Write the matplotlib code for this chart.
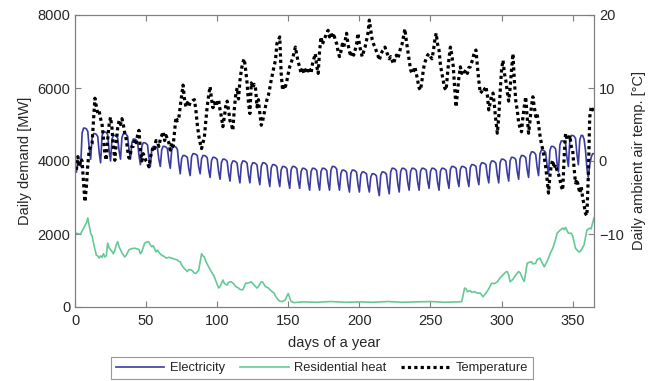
import matplotlib
matplotlib.use("Agg")
import matplotlib.pyplot as plt
import numpy as np

plt.rcParams['font.family'] = ['Liberation Sans', 'DejaVu Sans']

# ---------------- data ----------------
days = list(range(1, 366))

electricity = [
    3700, 4000, 3950, 3850,
    4770, 4900, 4900, 4880, 4810, 4350, 4050,
    4630, 4750, 4750, 4730, 4670, 4230, 3950,
    4680, 4800, 4800, 4780, 4720, 4280, 4000,
    4600, 4700, 4700, 4680, 4630, 4280, 4050,
    4640, 4750, 4750, 4730, 4680, 4300, 4050,
    4500, 4600, 4600, 4580, 4530, 4150, 3900,
    4400, 4500, 4500, 4480, 4440, 4080, 3850,
    4320, 4400, 4400, 4380, 4350, 4040, 3850,
    4310, 4400, 4400, 4380, 4340, 4010, 3800,
    4290, 4400, 4400, 4380, 4320, 3930, 3650,
    4070, 4150, 4150, 4130, 4100, 3790, 3600,
    4120, 4200, 4200, 4180, 4150, 3840, 3650,
    4060, 4150, 4150, 4130, 4090, 3760, 3550,
    4010, 4100, 4100, 4080, 4040, 3710, 3500,
    3960, 4050, 4050, 4030, 3990, 3660, 3450,
    3910, 4000, 4000, 3980, 3940, 3610, 3400,
    3910, 4000, 4000, 3980, 3940, 3610, 3400,
    3860, 3950, 3950, 3930, 3890, 3560, 3350,
    3850, 3950, 3950, 3930, 3880, 3530, 3300,
    3810, 3900, 3900, 3880, 3840, 3510, 3300,
    3760, 3850, 3850, 3830, 3790, 3460, 3250,
    3760, 3850, 3850, 3830, 3790, 3460, 3250,
    3710, 3800, 3800, 3780, 3740, 3410, 3200,
    3710, 3800, 3800, 3780, 3740, 3410, 3200,
    3710, 3800, 3800, 3780, 3740, 3410, 3200,
    3750, 3850, 3850, 3830, 3780, 3430, 3200,
    3660, 3750, 3750, 3730, 3690, 3360, 3150,
    3660, 3750, 3750, 3730, 3690, 3360, 3150,
    3620, 3700, 3700, 3680, 3650, 3340, 3150,
    3560, 3650, 3650, 3630, 3590, 3260, 3050,
    3610, 3700, 3700, 3680, 3640, 3310, 3100,
    3700, 3800, 3800, 3780, 3740, 3380, 3150,
    3710, 3800, 3800, 3780, 3740, 3410, 3200,
    3710, 3800, 3800, 3780, 3740, 3410, 3200,
    3720, 3800, 3800, 3780, 3750, 3450, 3250,
    3710, 3800, 3800, 3780, 3740, 3410, 3200,
    3720, 3800, 3800, 3780, 3750, 3450, 3250,
    3770, 3850, 3850, 3830, 3800, 3490, 3300,
    3770, 3850, 3850, 3830, 3800, 3490, 3300,
    3820, 3900, 3900, 3880, 3850, 3540, 3350,
    3870, 3950, 3950, 3930, 3900, 3590, 3400,
    3910, 4000, 4000, 3980, 3940, 3610, 3400,
    3960, 4050, 4050, 4030, 3990, 3660, 3450,
    4010, 4100, 4100, 4080, 4040, 3710, 3500,
    4060, 4150, 4150, 4130, 4090, 3760, 3550,
    4150, 4250, 4250, 4230, 4180, 3830, 3600,
    4200, 4300, 4300, 4280, 4230, 3880, 3650,
    4290, 4400, 4400, 4380, 4330, 3940, 3700,
    4440, 4550, 4550, 4530, 4480, 4090, 3850,
    4580, 4700, 4700, 4680, 4620, 4180, 3900,
    4580, 4700, 4700, 4600, 4300, 3800, 3550,
    3900, 4100, 4200, 4200,
]

temperature = [
    -1.2, 0.6, -0.8, 0.3, 0.0, -3.0, -5.6, -3.5, -0.5, 1.5,
    2.0, 2.4, 5.5, 8.6, 7.5, 6.5, 6.8, 5.8, 5.1, 3.0,
    1.0, 0.1, 3.0, 5.0, 6.0, 4.5, 2.0, 0.1, 2.5, 4.5,
    5.5, 5.0, 5.8, 5.0, 3.8, 3.0, 1.5, 0.4, 1.0, 2.0,
    2.0, 3.0, 2.5, 3.5, 4.2, 1.5, 0.0, 1.0, 0.5, 0.0,
    -0.3, -0.8, 0.5, 1.2, 2.0, 1.7, 2.8, 2.5, 2.0, 3.0,
    3.5, 4.0, 2.8, 3.5, 3.0, 2.5, 1.5, 2.5, 2.0, 4.0,
    6.0, 5.5, 5.8, 7.5, 9.0, 10.4, 8.5, 7.4, 8.0, 7.5,
    8.0, 8.1, 8.3, 8.4, 7.0, 5.0, 3.5, 2.5, 1.7, 2.5,
    3.3, 5.5, 7.5, 9.0, 10.2, 8.5, 7.3, 8.0, 7.5, 8.0,
    8.4, 7.0, 6.0, 4.7, 6.0, 7.5, 8.2, 7.0, 5.5, 5.0,
    4.2, 7.0, 9.0, 10.0, 8.5, 11.0, 12.5, 13.5, 14.0, 12.5,
    10.7, 8.0, 6.5, 10.7, 10.0, 10.5, 9.9, 7.4, 8.4, 6.5,
    4.9, 5.5, 6.5, 7.5, 8.4, 9.0, 10.0, 11.1, 12.0, 13.0,
    13.8, 16.1, 16.5, 17.0, 12.0, 9.7, 10.5, 10.2, 11.0, 12.0,
    12.9, 13.5, 14.0, 14.8, 15.6, 14.5, 13.5, 12.9, 12.0, 12.8,
    12.0, 12.5, 12.0, 12.8, 12.5, 12.0, 13.3, 14.0, 14.7, 13.0,
    12.0, 15.0, 17.0, 16.0, 16.5, 17.0, 17.5, 17.9, 17.0, 17.5,
    16.8, 17.5, 16.5, 16.1, 15.0, 14.3, 15.0, 16.0, 15.6, 16.5,
    17.5, 16.0, 15.0, 14.3, 15.0, 14.5, 15.2, 16.0, 17.5, 16.0,
    15.0, 14.3, 15.0, 15.6, 16.5, 17.5, 19.3, 18.0, 16.6, 16.0,
    15.6, 15.0, 14.5, 13.8, 14.5, 15.0, 15.2, 15.6, 15.0, 14.5,
    14.0, 14.3, 13.8, 13.3, 14.0, 14.5, 14.0, 14.7, 15.5, 16.0,
    17.0, 18.1, 16.5, 15.2, 14.0, 12.5, 12.0, 12.3, 12.9, 12.0,
    11.0, 10.0, 9.7, 11.0, 12.5, 13.5, 14.0, 14.5, 14.7, 14.3,
    14.0, 15.0, 16.5, 17.5, 16.0, 15.2, 13.2, 12.0, 11.0, 10.0,
    9.7, 12.0, 14.0, 15.6, 14.5, 13.0, 10.0, 7.4, 9.5, 11.5,
    12.9, 12.0, 12.5, 12.2, 12.5, 12.0, 12.8, 12.9, 13.5, 14.2,
    15.0, 15.2, 13.0, 11.0, 9.3, 9.5, 10.0, 9.8, 10.2, 9.0,
    7.0, 8.0, 9.0, 9.3, 7.5, 5.5, 3.8, 6.0, 9.5, 12.5,
    13.8, 12.0, 11.0, 9.5, 8.2, 10.0, 12.5, 14.7, 11.0, 8.2,
    7.0, 5.3, 4.5, 4.0, 6.0, 7.5, 8.8, 6.0, 3.8, 5.5,
    7.5, 8.8, 7.5, 6.1, 6.5, 5.0, 3.5, 2.4, 1.5, 0.5,
    -0.8, -2.5, -4.4, -2.0, -0.5, 0.1, -1.0, -0.5, -1.3, -1.8,
    -2.5, -3.5, -4.0, 0.5, 3.8, 3.0, 2.9, 3.5, 2.0, 1.5,
    -1.0, -3.0, -2.5, -3.5, -4.4, -3.5, -5.0, -6.0, -7.2, -7.5,
    -2.0, 6.0, 7.4, 7.0, 7.2,
]

heat_days = [
    1, 3, 4, 6, 8, 9, 11, 12, 13, 15, 16, 17, 18, 19, 20, 21, 22, 23, 24, 25,
    26, 27, 28, 29, 30, 31, 32, 33, 35, 36, 38, 40, 42, 44, 45, 46, 47, 49, 51, 52,
    53, 54, 55, 57, 58, 60, 61, 63, 64, 66, 68, 70, 72, 73, 74, 75, 77, 79, 80, 82,
    84, 85, 87, 89, 90, 91, 92, 94, 96, 98, 99, 101, 102, 104, 105, 107, 108, 110, 112, 113,
    115, 116, 118, 119, 120, 122, 124, 125, 126, 128, 129, 131, 132, 134, 136, 138, 140, 141, 143, 144,
    146, 148, 149, 150, 151, 152, 154, 160, 170, 180, 190, 200, 210, 220, 230, 240, 250, 260, 270, 272,
    274, 275, 276, 278, 279, 281, 283, 285, 287, 289, 291, 293, 295, 297, 299, 301, 303, 304, 305, 306,
    308, 310, 312, 313, 315, 316, 318, 320, 321, 322, 324, 325, 327, 328, 330, 332, 333, 334, 336, 338,
    339, 341, 343, 344, 345, 347, 349, 350, 352, 354, 355, 356, 358, 360, 362, 363, 364, 365,
]
heat = [
    2020, 2000, 2010, 2160, 2300, 2440, 2020, 1950, 1750, 1420, 1400, 1340, 1400, 1360, 1460, 1370, 1400, 1750, 1620, 1570,
    1520, 1460, 1550, 1700, 1790, 1650, 1570, 1480, 1370, 1420, 1570, 1600, 1610, 1590, 1570, 1460, 1520, 1750, 1790, 1780,
    1700, 1650, 1680, 1510, 1560, 1450, 1420, 1380, 1340, 1360, 1340, 1310, 1290, 1250, 1240, 1150, 1050, 970, 1030, 1010,
    930, 920, 1010, 1460, 1400, 1370, 1250, 1100, 960, 830, 720, 520, 560, 740, 650, 600, 680, 690, 620, 560,
    520, 480, 470, 560, 650, 660, 690, 640, 600, 520, 560, 690, 680, 560, 520, 440, 380, 300, 190, 160,
    150, 200, 300, 370, 250, 150, 120, 140, 130, 150, 130, 140, 130, 150, 130, 140, 150, 130, 140, 150,
    520, 500, 420, 450, 400, 420, 380, 380, 280, 380, 500, 650, 640, 690, 800, 880, 960, 970, 880, 690,
    760, 880, 970, 940, 760, 700, 1200, 1230, 1240, 1180, 1200, 1300, 1340, 1250, 1100, 1250, 1340, 1450, 1610, 1850,
    2020, 2100, 2160, 2120, 2180, 2020, 2020, 1950, 1610, 1520, 1510, 1560, 1700, 2110, 2160, 2140, 2300, 2440,
]

x_ticks = [0, 50, 100, 150, 200, 250, 300, 350]
y_ticks = [0, 2000, 4000, 6000, 8000]
t_ticks = [-10, 0, 10, 20]

# ---------------- plot ----------------
fig = plt.figure(figsize=(6.54, 3.81), dpi=100)
ax = fig.add_axes([75 / 654, 1 - 307 / 381, (594 - 75) / 654, (307 - 15) / 381])

c_el = '#3b3b9f'
c_heat = '#66c995'
axis_col = '#7f7f7f'
text_col = '#262626'

l1, = ax.plot(days, electricity, color=c_el, lw=1.2, label='Electricity')
l2, = ax.plot(heat_days, heat, color=c_heat, lw=1.2, label='Residential heat')
ax.set_xlim(0, 365)
ax.set_ylim(0, 8000)
ax.set_xticks(x_ticks)
ax.set_yticks(y_ticks)
ax.set_xlabel('days of a year', fontsize=10.5, color=text_col, labelpad=6)
ax.set_ylabel('Daily demand [MW]', fontsize=10.5, color=text_col, labelpad=4)

ax2 = ax.twinx()
l3, = ax2.plot(days, temperature, color='black', lw=2.3, linestyle=(0, (1, 1)),
               label='Temperature')
ax2.set_ylim(-20, 20)
ax2.set_yticks(t_ticks)
ax2.set_ylabel('Daily ambient air temp. [°C]', fontsize=10.5, color=text_col,
               rotation=90, labelpad=6)

for a in (ax, ax2):
    for s in a.spines.values():
        s.set_color(axis_col)
        s.set_linewidth(0.8)
    a.tick_params(direction='in', length=4, width=0.8, color=axis_col,
                  labelcolor=text_col, labelsize=10.5)
ax.tick_params(top=True, right=False)
ax2.tick_params(right=True, left=False, top=False)
ax.tick_params(axis='x', pad=5)

leg = fig.legend(handles=[l1, l2, l3], loc='upper center',
                 bbox_to_anchor=(322 / 654, 1 - 357 / 381), ncol=3,
                 fontsize=9.3, frameon=True, fancybox=False, edgecolor=axis_col,
                 handlelength=3.75, columnspacing=1.15, handletextpad=0.45,
                 borderpad=0.4, borderaxespad=0)
leg.get_frame().set_linewidth(0.8)
for t in leg.get_texts():
    t.set_color(text_col)

fig.savefig('out.png', dpi=100)
